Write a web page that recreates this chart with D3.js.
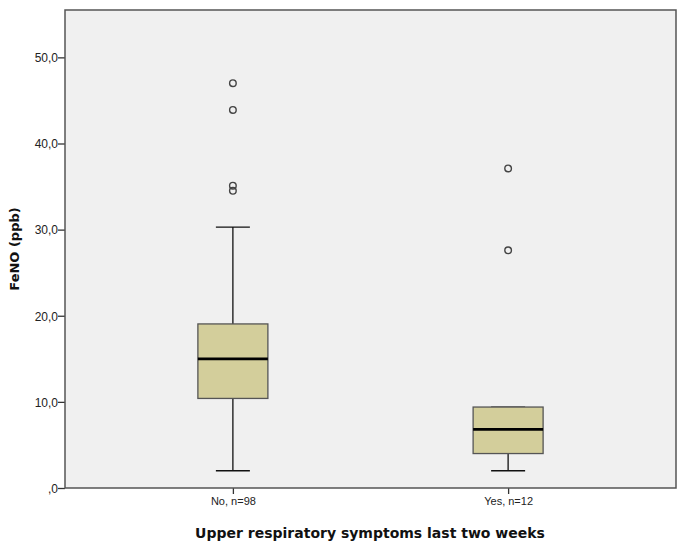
<!DOCTYPE html>
<html>
<head>
<meta charset="utf-8">
<script src="https://cdn.jsdelivr.net/npm/d3@7"></script>
<style>
  body { margin: 0; background: #fff; }
  text { font-family: "Liberation Sans", Arial, sans-serif; }
  .title { font-family: "DejaVu Sans", sans-serif; }
</style>
</head>
<body>
<svg id="chart"></svg>
<script>
const categories = ['No, n=98', 'Yes, n=12'];
// five-number summaries: lower whisker, Q1, median, Q3, upper whisker
const lowWhisker = [2.0, 2.0];
const q1 = [10.4, 4.0];
const median = [15.0, 6.8];
const q3 = [19.05, 9.4];
const highWhisker = [30.3, 9.4];
const outliers = [[47.0, 43.9, 35.1, 34.5], [37.1, 27.6]];
const yTicks = [0, 10, 20, 30, 40, 50];

const DIMENSION = {
	width: 685,
	height: 546,
	margin: { left: 65, right: 9, top: 10, bottom: 58 }
};
DIMENSION.trueWidth = DIMENSION.width - (DIMENSION.margin.left + DIMENSION.margin.right);
DIMENSION.trueHeight = DIMENSION.height - (DIMENSION.margin.top + DIMENSION.margin.bottom);

const svg = d3.select('#chart')
	.attr('width', DIMENSION.width)
	.attr('height', DIMENSION.height);

const g = svg.append('g')
	.attr('transform', `translate(${DIMENSION.margin.left},${DIMENSION.margin.top})`);

const xScale = d3.scalePoint()
	.domain(categories)
	.range([0, DIMENSION.trueWidth])
	.padding(0.61);

const yScale = d3.scaleLinear()
	.domain([0, 55.5])
	.range([DIMENSION.trueHeight, 0]);

g.append('rect')
	.attr('width', DIMENSION.trueWidth)
	.attr('height', DIMENSION.trueHeight)
	.attr('fill', '#f0f0f0');

const boxW = 70;
const capW = 34;

const data = categories.map((c, i) => ({
	cat: c,
	lo: lowWhisker[i], q1: q1[i], med: median[i], q3: q3[i], hi: highWhisker[i],
	out: outliers[i]
}));

const boxes = g.selectAll('.box')
	.data(data)
	.enter().append('g')
	.attr('class', 'box')
	.attr('transform', d => `translate(${xScale(d.cat)},0)`);

// whiskers
boxes.append('line')
	.attr('y1', d => yScale(d.q3)).attr('y2', d => yScale(d.hi))
	.attr('stroke', '#111').attr('stroke-width', 1.3);
boxes.append('line')
	.attr('y1', d => yScale(d.q1)).attr('y2', d => yScale(d.lo))
	.attr('stroke', '#111').attr('stroke-width', 1.3);
boxes.append('line')
	.attr('x1', -capW / 2).attr('x2', capW / 2)
	.attr('y1', d => yScale(d.hi)).attr('y2', d => yScale(d.hi))
	.attr('stroke', '#111').attr('stroke-width', 1.3);
boxes.append('line')
	.attr('x1', -capW / 2).attr('x2', capW / 2)
	.attr('y1', d => yScale(d.lo)).attr('y2', d => yScale(d.lo))
	.attr('stroke', '#111').attr('stroke-width', 1.3);

boxes.append('rect')
	.attr('x', -boxW / 2)
	.attr('width', boxW)
	.attr('y', d => yScale(d.q3))
	.attr('height', d => yScale(d.q1) - yScale(d.q3))
	.attr('fill', '#d3ce9b')
	.attr('stroke', '#555')
	.attr('stroke-width', 1.3);

boxes.append('line')
	.attr('x1', -boxW / 2).attr('x2', boxW / 2)
	.attr('y1', d => yScale(d.med)).attr('y2', d => yScale(d.med))
	.attr('stroke', '#000').attr('stroke-width', 2.8);

boxes.selectAll('circle')
	.data(d => d.out)
	.enter().append('circle')
	.attr('cy', d => yScale(d))
	.attr('r', 3.3)
	.attr('fill', 'none')
	.attr('stroke', '#444')
	.attr('stroke-width', 1.4);

// axes
const yAxis = d3.axisLeft(yScale)
	.tickValues(yTicks)
	.tickSize(7)
	.tickFormat(d => d === 0 ? ',0' : d + ',0');
const yg = g.append('g').call(yAxis);
yg.select('.domain').remove();
yg.selectAll('.tick line').attr('stroke', '#333').attr('stroke-width', 1.3);
yg.selectAll('.tick text').attr('font-size', 12).attr('fill', '#222').attr('x', -7).attr('dy', '0.36em');

const xAxis = d3.axisBottom(xScale).tickSize(6);
const xg = g.append('g')
	.attr('transform', `translate(0,${DIMENSION.trueHeight})`)
	.call(xAxis);
xg.select('.domain').remove();
xg.selectAll('.tick line').attr('stroke', '#333').attr('stroke-width', 1.3);
xg.selectAll('.tick text').attr('font-size', 11).attr('fill', '#222').attr('y', 9);

// frame
g.append('rect')
	.attr('width', DIMENSION.trueWidth)
	.attr('height', DIMENSION.trueHeight)
	.attr('fill', 'none')
	.attr('stroke', '#555')
	.attr('stroke-width', 1.5);

svg.append('text')
	.attr('class', 'title')
	.attr('transform', `translate(19,${DIMENSION.margin.top + DIMENSION.trueHeight / 2}) rotate(-90)`)
	.attr('text-anchor', 'middle')
	.attr('font-size', 13)
	.attr('font-weight', 'bold')
	.attr('fill', '#111')
	.text('FeNO (ppb)');

svg.append('text')
	.attr('class', 'title')
	.attr('x', 370)
	.attr('y', 538)
	.attr('text-anchor', 'middle')
	.attr('font-size', 14)
	.attr('font-weight', 'bold')
	.attr('fill', '#111')
	.text('Upper respiratory symptoms last two weeks');
</script>
</body>
</html>
